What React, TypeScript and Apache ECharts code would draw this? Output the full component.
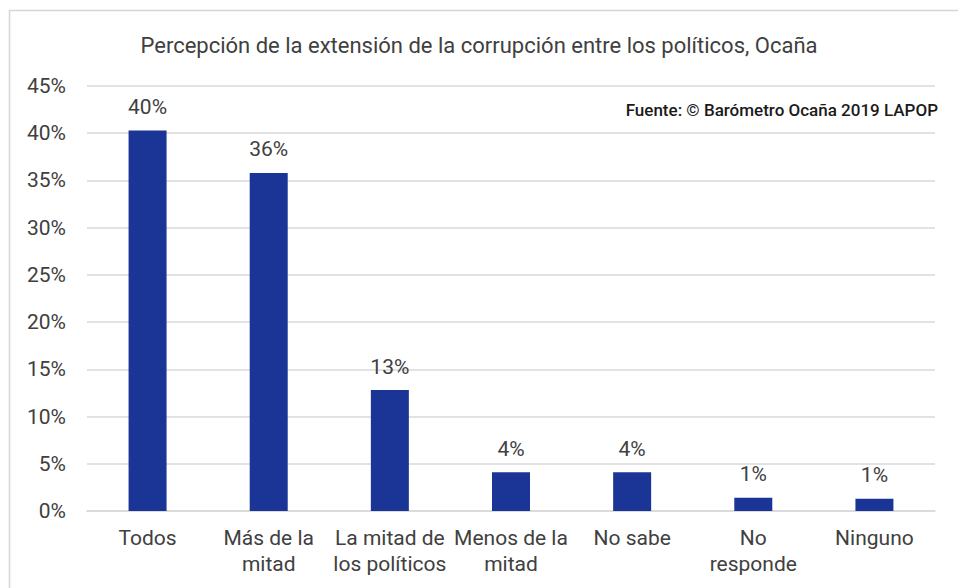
import React, { useEffect, useRef } from "react";
import * as echarts from "echarts";

const categories = [
  "Todos",
  "Más de la\nmitad",
  "La mitad de\nlos políticos",
  "Menos de la\nmitad",
  "No sabe",
  "No\nresponde",
  "Ninguno",
];
const values = [40.3, 35.8, 12.8, 4.1, 4.1, 1.4, 1.3];
const yTicks = [0, 5, 10, 15, 20, 25, 30, 35, 40, 45];
const titleText = "Percepción de la extensión de la corrupción entre los políticos, Ocaña";
const sourceText = "Fuente: © Barómetro Ocaña 2019 LAPOP";

export default function App() {
  const ref = useRef<HTMLDivElement>(null);
  useEffect(() => {
    if (!ref.current) return;
    const chart = echarts.init(ref.current, null, { renderer: "svg" });
    const font = "Roboto";
    chart.setOption({
      animation: false,
      backgroundColor: "#ffffff",
      textStyle: { fontFamily: font },
      title: {
        text: titleText,
        left: "center",
        top: 29,
        textStyle: { fontFamily: font, fontSize: 22, fontWeight: "normal", color: "#404040" },
      },
      graphic: [
        {
          type: "rect",
          shape: { x: 9.5, y: 10.5, width: 960, height: 600 },
          style: { fill: "none", stroke: "#d6d6d6", lineWidth: 1.5 },
          silent: true,
        },
        {
          type: "text",
          right: 20,
          top: 101,
          style: {
            text: sourceText,
            fontFamily: font,
            fontSize: 17,
            fontWeight: 500,
            fill: "#1a1a1a",
          },
        },
      ],
      grid: { left: 87, right: 23, top: 86, bottom: 77, containLabel: false },
      xAxis: {
        type: "category",
        data: categories,
        axisTick: { show: false },
        axisLine: { show: true, lineStyle: { color: "#d9d9d9", width: 1.5 } },
        axisLabel: {
          interval: 0,
          margin: 14,
          fontFamily: font,
          fontSize: 21,
          color: "#404040",
          lineHeight: 26,
        },
      },
      yAxis: {
        type: "value",
        min: 0,
        max: 45,
        interval: 5,
        axisLine: { show: false },
        axisTick: { show: false },
        splitLine: { lineStyle: { color: "#d9d9d9", width: 1.5 } },
        axisLabel: {
          margin: 21,
          fontFamily: font,
          fontSize: 21,
          color: "#404040",
          formatter: (v: number) => (yTicks.includes(v) ? v + "%" : ""),
        },
      },
      series: [
        {
          type: "bar",
          data: values,
          barWidth: 38,
          itemStyle: { color: "#1b3596" },
          label: {
            show: true,
            position: "top",
            distance: 13,
            fontFamily: font,
            fontSize: 21,
            color: "#404040",
            formatter: (p: any) => Math.round(p.value) + "%",
          },
        },
      ],
    });
    return () => chart.dispose();
  }, []);
  return (
    <div
      ref={ref}
      style={{ position: "fixed", left: 0, top: 0, width: 958, height: 588 }}
    />
  );
}
